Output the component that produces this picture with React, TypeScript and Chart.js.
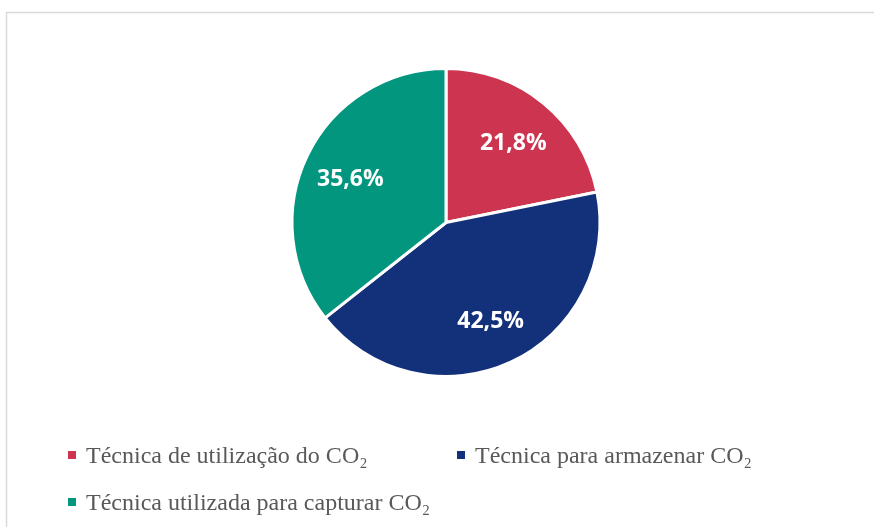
import React, { useEffect, useRef } from "react";
import { Chart, registerables } from "chart.js";

Chart.register(...registerables);

const categories = [
  "Técnica de utilização do CO₂",
  "Técnica para armazenar CO₂",
  "Técnica utilizada para capturar CO₂",
];
const shares = [21.8, 42.5, 35.6];
const valueLabels = ["21,8%", "42,5%", "35,6%"];
const sliceColors = ["#CC3450", "#13317A", "#02967F"];

const W = 874;
const H = 527;

const framePlugin = {
  id: "frame",
  beforeDraw(chart: any) {
    const ctx = chart.ctx;
    ctx.save();
    ctx.fillStyle = "#ffffff";
    ctx.fillRect(0, 0, chart.width, chart.height);
    ctx.strokeStyle = "#d9d9d9";
    ctx.lineWidth = 1.5;
    ctx.strokeRect(6.5, 12.5, chart.width + 20, chart.height + 20);
    ctx.restore();
  },
};

const sliceLabelPlugin = {
  id: "sliceLabels",
  afterDatasetsDraw(chart: any) {
    const ctx = chart.ctx;
    const meta = chart.getDatasetMeta(0);
    ctx.save();
    ctx.fillStyle = "#ffffff";
    ctx.font = "bold 23px 'Open Sans'";
    ctx.textAlign = "center";
    ctx.textBaseline = "middle";
    meta.data.forEach((arc: any, i: number) => {
      const p = arc.getProps(["x", "y", "startAngle", "endAngle", "outerRadius"], true);
      const mid = (p.startAngle + p.endAngle) / 2;
      const r = p.outerRadius * 0.69;
      ctx.fillText(valueLabels[i], p.x + Math.cos(mid) * r, p.y + Math.sin(mid) * r + 3);
    });
    ctx.restore();
  },
};

const legendPlugin = {
  id: "gridLegend",
  afterDraw(chart: any) {
    const ctx = chart.ctx;
    const labels: string[] = chart.data.labels;
    const colors: string[] = chart.data.datasets[0].backgroundColor;
    const left = 68;
    const colWidth = 389;
    const firstBaseline = 463;
    const rowHeight = 47;
    const box = 8;
    ctx.save();
    ctx.font = "24px 'Liberation Serif'";
    ctx.textBaseline = "alphabetic";
    ctx.textAlign = "left";
    labels.forEach((label, i) => {
      const col = i % 2;
      const row = Math.floor(i / 2);
      const x = left + col * colWidth;
      const base = firstBaseline + row * rowHeight;
      ctx.fillStyle = colors[i];
      ctx.fillRect(x, base - 12, box, box);
      ctx.fillStyle = "#595959";
      ctx.fillText(label, x + 18, base);
    });
    ctx.restore();
  },
};

export default function App() {
  const ref = useRef<HTMLCanvasElement | null>(null);
  useEffect(() => {
    if (!ref.current) return;
    const chart = new Chart(ref.current, {
      type: "pie",
      data: {
        labels: categories,
        datasets: [
          {
            data: shares,
            backgroundColor: sliceColors,
            borderColor: "#ffffff",
            borderWidth: 3,
            hoverOffset: 0,
            radius: 154,
          } as any,
        ],
      },
      options: {
        responsive: false,
        animation: false,
        layout: { padding: { top: 70, bottom: 152, left: 18, right: 0 } },
        plugins: {
          legend: { display: false },
          tooltip: { enabled: false },
        },
      },
      plugins: [framePlugin, sliceLabelPlugin, legendPlugin],
    });
    return () => chart.destroy();
  }, []);
  return (
    <div style={{ position: "fixed", left: 0, top: 0, width: W, height: H, background: "#fff" }}>
      <canvas ref={ref} width={W} height={H} style={{ display: "block" }} />
    </div>
  );
}
